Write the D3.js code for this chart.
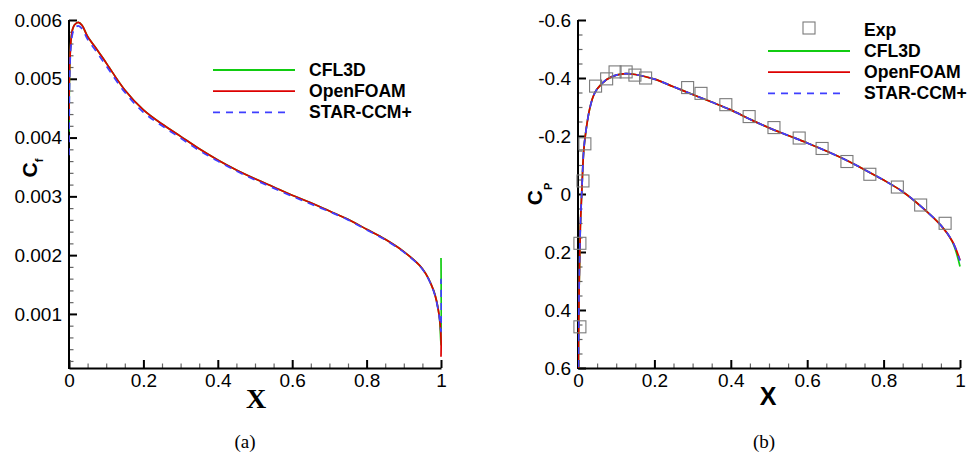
<!DOCTYPE html>
<html>
<head>
<meta charset="utf-8">
<script src="https://cdn.jsdelivr.net/npm/d3@7"></script>
<style>
  body { margin: 0; background: #fff; }
  svg { display: block; }
</style>
</head>
<body>
<div id="chart"></div>
<script>
// -------------------------------------------------------------------------
// Two panels: skin friction Cf (a) and pressure coefficient Cp (b) along x
// -------------------------------------------------------------------------

// Data
const xCf = [0, 0.001, 0.003, 0.006, 0.01, 0.015, 0.025, 0.035, 0.05, 0.075,
    0.1, 0.15, 0.2, 0.25, 0.3, 0.35, 0.4, 0.45, 0.5, 0.55, 0.6, 0.65, 0.7,
    0.75, 0.8, 0.85, 0.9, 0.95, 0.98, 0.995, 1, 1];
const cfCFL3D = [0.0041, 0.0049, 0.0054, 0.0057, 0.00585, 0.00592, 0.00596,
    0.00591, 0.00572, 0.0055, 0.00527, 0.00481, 0.00447, 0.00423, 0.00402,
    0.00381, 0.00362, 0.00345, 0.0033, 0.00316, 0.00302, 0.00289, 0.00275,
    0.00261, 0.00244, 0.00227, 0.00206, 0.00177, 0.0014, 0.00098, 0.00047, 0.00195];
const cfOpenFOAM = [0.0043, 0.005, 0.0054, 0.0057, 0.00585, 0.00592, 0.00596,
    0.00591, 0.00572, 0.0055, 0.00527, 0.00481, 0.00447, 0.00423, 0.00402,
    0.00381, 0.00362, 0.00345, 0.0033, 0.00316, 0.00302, 0.00289, 0.00275,
    0.00261, 0.00244, 0.00227, 0.00206, 0.00177, 0.0014, 0.00098, 0.0006, 0.00027];
const cfStar = [0.0037, 0.0047, 0.0053, 0.0056, 0.00578, 0.00586, 0.0059,
    0.00585, 0.00567, 0.00545, 0.00522, 0.00477, 0.00443, 0.0042, 0.00399,
    0.00378, 0.0036, 0.00343, 0.00328, 0.00314, 0.003, 0.00287, 0.00274,
    0.0026, 0.00243, 0.00226, 0.00205, 0.00176, 0.00139, 0.00097, 0.0007, 0.0016];

const xCp = [0, 0.0005, 0.001, 0.003, 0.006, 0.01, 0.015, 0.02, 0.03, 0.04,
    0.05, 0.075, 0.1, 0.125, 0.15, 0.2, 0.25, 0.3, 0.35, 0.4, 0.45, 0.5, 0.55,
    0.6, 0.65, 0.7, 0.75, 0.8, 0.85, 0.9, 0.95, 0.98, 1];
const cpCFL3D = [1.0, 0.8, 0.62, 0.32, 0.12, -0.01, -0.15, -0.21, -0.29, -0.337,
    -0.362, -0.395, -0.41, -0.415, -0.412, -0.396, -0.37, -0.343, -0.317, -0.29,
    -0.258, -0.228, -0.202, -0.176, -0.148, -0.118, -0.084, -0.048, -0.008,
    0.045, 0.108, 0.165, 0.25];
const cpOpenFOAM = [1.0, 0.8, 0.62, 0.32, 0.12, -0.01, -0.15, -0.21, -0.29, -0.337,
    -0.362, -0.395, -0.41, -0.415, -0.412, -0.396, -0.37, -0.343, -0.317, -0.29,
    -0.258, -0.228, -0.202, -0.176, -0.148, -0.118, -0.084, -0.048, -0.008,
    0.045, 0.108, 0.163, 0.228];
const cpStar = [1.0, 0.8, 0.62, 0.32, 0.12, -0.01, -0.15, -0.21, -0.29, -0.337,
    -0.362, -0.395, -0.41, -0.415, -0.412, -0.396, -0.37, -0.343, -0.317, -0.29,
    -0.258, -0.228, -0.202, -0.176, -0.148, -0.118, -0.084, -0.048, -0.008,
    0.045, 0.108, 0.163, 0.23];

const xExp = [0.005, 0.005, 0.013, 0.018, 0.046, 0.075, 0.097, 0.126, 0.149,
    0.177, 0.287, 0.322, 0.387, 0.448, 0.513, 0.579, 0.639, 0.704, 0.764,
    0.836, 0.897, 0.961];
const cpExp = [0.458, 0.17, -0.045, -0.173, -0.372, -0.397, -0.421, -0.421,
    -0.41, -0.4, -0.367, -0.347, -0.308, -0.267, -0.229, -0.193, -0.157,
    -0.112, -0.068, -0.024, 0.038, 0.101];

const xTicks = [0, 0.2, 0.4, 0.6, 0.8, 1];
const cfTicks = [0.001, 0.002, 0.003, 0.004, 0.005, 0.006];
const cpTicks = [-0.6, -0.4, -0.2, 0, 0.2, 0.4, 0.6];
const seriesNames = ["CFL3D", "OpenFOAM", "STAR-CCM+"];

// Styles
const colors = { "CFL3D": "#11cc11", "OpenFOAM": "#dd0000", "STAR-CCM+": "#3f3fff" };
const dashes = { "CFL3D": null, "OpenFOAM": null, "STAR-CCM+": "7,6" };
const sansFont = "'Liberation Sans', Arial, Helvetica, sans-serif";
const serifFont = "'Liberation Serif', 'Times New Roman', serif";

const svg = d3.select("#chart")
    .append("svg")
    .attr("width", 973)
    .attr("height", 456);

// Panel geometry
const top_ = 20, bottom_ = 368;
const xA = d3.scaleLinear().domain([0, 1]).range([69, 441]);
const yA = d3.scaleLinear().domain([0.00008, 0.006]).range([bottom_, top_]);
const xB = d3.scaleLinear().domain([0, 1]).range([578, 960]);
const yB = d3.scaleLinear().domain([-0.6, 0.6]).range([top_, bottom_]);

// Clip paths
const defs = svg.append("defs");
defs.append("clipPath").attr("id", "clipA").append("rect")
    .attr("x", 69).attr("y", top_).attr("width", 373).attr("height", bottom_ - top_);
defs.append("clipPath").attr("id", "clipB").append("rect")
    .attr("x", 578).attr("y", top_).attr("width", 383).attr("height", bottom_ - top_);

// Axes with inward ticks and minor ticks
function drawAxes(xs, ys, yMajor, yMinor) {
    const xMinor = d3.range(0.05, 1, 0.05).filter(v => Math.abs(v * 5 - Math.round(v * 5)) > 1e-6);
    const fmt = d => String(d);

    const gx = svg.append("g").attr("transform", `translate(0,${bottom_})`);
    gx.call(d3.axisBottom(xs).tickValues(xMinor).tickSizeInner(-4.5).tickSizeOuter(0).tickFormat(""))
        .call(g => g.select(".domain").remove())
        .selectAll("line").attr("stroke", "#666").attr("stroke-width", 1.2);
    const gx2 = svg.append("g").attr("transform", `translate(0,${bottom_})`)
        .call(d3.axisBottom(xs).tickValues(xTicks).tickSizeInner(-8).tickSizeOuter(0)
            .tickPadding(6).tickFormat(fmt));
    gx2.select(".domain").attr("stroke-width", 2);
    gx2.selectAll("line").attr("stroke-width", 2);
    gx2.selectAll("text").attr("font-family", sansFont).attr("font-size", 19).attr("fill", "#000");

    const gy = svg.append("g").attr("transform", `translate(${xs.range()[0]},0)`);
    gy.call(d3.axisLeft(ys).tickValues(yMinor).tickSizeInner(-4.5).tickSizeOuter(0).tickFormat(""))
        .call(g => g.select(".domain").remove())
        .selectAll("line").attr("stroke", "#666").attr("stroke-width", 1.2);
    const gy2 = svg.append("g").attr("transform", `translate(${xs.range()[0]},0)`)
        .call(d3.axisLeft(ys).tickValues(yMajor).tickSizeInner(-8).tickSizeOuter(0)
            .tickPadding(7).tickFormat(fmt));
    gy2.select(".domain").attr("stroke-width", 2)
        .attr("d", `M0,${bottom_ + 1}V${top_}`);
    gy2.selectAll("line").attr("stroke-width", 2);
    gy2.selectAll("text").attr("font-family", sansFont).attr("font-size", 19).attr("fill", "#000");
}

drawAxes(xA, yA, cfTicks,
    d3.range(0.0002, 0.006, 0.0002).filter(v => Math.abs(v * 1000 - Math.round(v * 1000)) > 1e-6));
drawAxes(xB, yB, cpTicks,
    d3.range(-0.55, 0.6, 0.05).filter(v => Math.abs(v * 5 - Math.round(v * 5)) > 1e-6));

// Curves
function drawCurves(xs, ys, xVals, seriesList, clipId) {
    const g = svg.append("g").attr("clip-path", `url(#${clipId})`);
    seriesList.forEach(([name, vals]) => {
        const pts = xVals.map((x, i) => [x, vals[i]]);
        g.append("path")
            .datum(pts)
            .attr("fill", "none")
            .attr("stroke", colors[name])
            .attr("stroke-width", 1.7)
            .attr("stroke-dasharray", dashes[name])
            .attr("d", d3.line()
                .x(d => xs(d[0]))
                .y(d => ys(d[1]))
                .curve(d3.curveCatmullRom.alpha(0.5)));
    });
}

drawCurves(xA, yA, xCf, [["CFL3D", cfCFL3D], ["OpenFOAM", cfOpenFOAM], ["STAR-CCM+", cfStar]], "clipA");
drawCurves(xB, yB, xCp, [["CFL3D", cpCFL3D], ["OpenFOAM", cpOpenFOAM], ["STAR-CCM+", cpStar]], "clipB");

// Experimental points
const sq = 12;
svg.append("g")
    .selectAll("rect")
    .data(xExp.map((x, i) => [x, cpExp[i]]))
    .join("rect")
    .attr("x", d => xB(d[0]) - sq / 2)
    .attr("y", d => yB(d[1]) - sq / 2)
    .attr("width", sq)
    .attr("height", sq)
    .attr("fill", "none")
    .attr("stroke", "#7a7a7a")
    .attr("stroke-width", 1.1);

// Legends
function drawLegend(x0, y0, withExp) {
    const g = svg.append("g").attr("font-family", sansFont).attr("font-size", 17.6)
        .attr("font-weight", "bold");
    let y = y0;
    if (withExp) {
        g.append("rect").attr("x", x0 + 41 - sq / 2).attr("y", y - 21 - sq / 2 - 2)
            .attr("width", sq).attr("height", sq)
            .attr("fill", "none").attr("stroke", "#7a7a7a").attr("stroke-width", 1.1);
        g.append("text").attr("x", x0 + 96).attr("y", y - 21 + 6).text("Exp");
    }
    seriesNames.forEach((name, i) => {
        const yy = y + i * 21.2;
        g.append("line")
            .attr("x1", x0).attr("x2", x0 + (dashes[name] ? 76 : 82))
            .attr("y1", yy).attr("y2", yy)
            .attr("stroke", colors[name]).attr("stroke-width", 1.8)
            .attr("stroke-dasharray", dashes[name]);
        g.append("text").attr("x", x0 + 96).attr("y", yy + 6).text(name);
    });
}
drawLegend(213, 70, false);
drawLegend(768, 51, true);

// Axis titles
const cfLabel = svg.append("text")
    .attr("transform", "translate(37,168) rotate(-90)")
    .attr("text-anchor", "middle")
    .attr("font-family", sansFont)
    .attr("font-weight", "bold");
cfLabel.append("tspan").attr("font-size", 21).text("C");
cfLabel.append("tspan").attr("font-size", 11).attr("dy", 6).text("f");

const cpLabel = svg.append("text")
    .attr("transform", "translate(541.5,194) rotate(-90)")
    .attr("text-anchor", "middle")
    .attr("font-family", sansFont)
    .attr("font-weight", "bold");
cpLabel.append("tspan").attr("font-size", 21).text("C");
cpLabel.append("tspan").attr("font-size", 11).attr("dy", 10).text("P");

svg.append("text")
    .attr("x", 256).attr("y", 408)
    .attr("text-anchor", "middle")
    .attr("font-family", serifFont)
    .attr("font-weight", "bold")
    .attr("font-size", 28)
    .text("X");

svg.append("text")
    .attr("x", 768).attr("y", 405)
    .attr("text-anchor", "middle")
    .attr("font-family", sansFont)
    .attr("font-weight", "bold")
    .attr("font-size", 25)
    .text("X");

// Captions
svg.append("text")
    .attr("x", 245).attr("y", 448)
    .attr("text-anchor", "middle")
    .attr("font-family", serifFont)
    .attr("font-size", 19)
    .text("(a)");

svg.append("text")
    .attr("x", 764).attr("y", 448)
    .attr("text-anchor", "middle")
    .attr("font-family", serifFont)
    .attr("font-size", 19)
    .text("(b)");
</script>
</body>
</html>
